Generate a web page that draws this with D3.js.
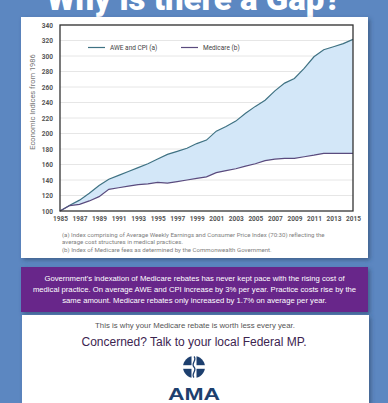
<!DOCTYPE html>
<html><head><meta charset="utf-8">
<script src="https://cdn.jsdelivr.net/npm/d3@7"></script>
<style>
html,body{margin:0;padding:0;background:#5c87c1;}
svg{display:block;}
</style></head>
<body>
<svg id="c" width="388" height="403"></svg>
<script>
const years = d3.range(1985, 2016);
const aweCpi = [100,107.5,114,123,133,141,146,151,156,161,167,173,177,181,187,191.5,203,209,216,226,235,243,255,265,271,284,299,308,312,316,321.5];
const medicare = [100,107,108.6,113,118.5,128,130,132,134,135,137,136,138,140,142,144,149.5,152,154.5,158,161,165,167,168,168,170,172,174.4,174.4,174.4,174.4];
const yTicks = d3.range(100, 341, 20);
const xTicks = d3.range(1985, 2016, 2);
const legendLabels = ["AWE and CPI (a)", "Medicare (b)"];
const notes = ["(a) Index comprising of Average Weekly Earnings and Consumer Price Index (70:30) reflecting the",
               "average cost structures in medical practices.",
               "(b) Index of Medicare fees as determined by the Commonwealth Government."];
const boxLines = ["Government's indexation of Medicare rebates has never kept pace with the rising cost of",
                  "medical practice. On average AWE and CPI increase by 3% per year. Practice costs rise by the",
                  "same amount. Medicare rebates only increased by 1.7% on average per year."];

const svg = d3.select("#c");
const defs = svg.append("defs");
const f = defs.append("filter").attr("id","sh").attr("x","-5%").attr("y","-5%").attr("width","115%").attr("height","115%");
f.append("feDropShadow").attr("dx",2).attr("dy",2).attr("stdDeviation",2).attr("flood-color","#2a4466").attr("flood-opacity",0.6);

// title (partly above the top edge, as in the reference)
svg.append("text").attr("x",194).attr("y",10).attr("text-anchor","middle")
  .attr("font-family","Roboto, 'Liberation Sans', sans-serif").attr("font-weight","900")
  .attr("font-size",33).attr("fill","#ffffff").text("Why is there a Gap?");

svg.append("rect").attr("x",21).attr("y",17).attr("width",347).attr("height",241).attr("fill","#fff").attr("filter","url(#sh)");

const x = d3.scaleLinear().domain([1985,2015]).range([60,353]);
const y = d3.scaleLinear().domain([100,340]).range([211,25]);

const g = svg.append("g");
g.selectAll("line.grid").data(yTicks.slice(1)).join("line").attr("class","grid")
  .attr("x1",60).attr("x2",353).attr("y1",d=>y(d)).attr("y2",d=>y(d))
  .attr("stroke","#e6e6e6").attr("stroke-width",1);

const data = years.map((yr,i)=>({yr, a:aweCpi[i], m:medicare[i]}));
g.append("path").datum(data)
  .attr("d", d3.area().x(d=>x(d.yr)).y0(d=>y(d.m)).y1(d=>y(d.a)))
  .attr("fill","#d3e7f8");
g.append("path").datum(data).attr("d", d3.line().x(d=>x(d.yr)).y(d=>y(d.a)))
  .attr("fill","none").attr("stroke","#3f7283").attr("stroke-width",1.2);
g.append("path").datum(data).attr("d", d3.line().x(d=>x(d.yr)).y(d=>y(d.m)))
  .attr("fill","none").attr("stroke","#5a4b7e").attr("stroke-width",1.2);

g.append("rect").attr("x",60).attr("y",25).attr("width",293).attr("height",186)
  .attr("fill","none").attr("stroke","#333").attr("stroke-width",1.3);

const yAxis = d3.axisLeft(y).tickValues(yTicks).tickSize(0).tickPadding(7);
const ya = svg.append("g").attr("transform","translate(60,0)").call(yAxis);
ya.select(".domain").remove();
ya.selectAll("text").attr("font-family","Roboto, 'DejaVu Sans', sans-serif").attr("font-weight","bold")
  .attr("font-size",6.5).attr("fill","#555");

const xAxis = d3.axisBottom(x).tickValues(xTicks).tickFormat(d3.format("d")).tickSize(0).tickPadding(5);
const xa = svg.append("g").attr("transform","translate(0,211)").call(xAxis);
xa.select(".domain").remove();
xa.selectAll("text").attr("font-family","Roboto, 'DejaVu Sans', sans-serif").attr("font-weight","bold")
  .attr("font-size",6.5).attr("fill","#555");

svg.append("text").attr("transform","translate(35,102) rotate(-90)").attr("text-anchor","middle")
  .attr("font-family","Roboto, sans-serif").attr("font-size",7.5).attr("fill","#777")
  .text("Economic Indices from 1986");

const leg = svg.append("g");
const legColors = ["#3f7283","#5a4b7e"];
const legX = [88, 181];
legendLabels.forEach((t,i)=>{
  leg.append("line").attr("x1",legX[i]).attr("x2",legX[i]+17).attr("y1",47.5).attr("y2",47.5)
    .attr("stroke",legColors[i]).attr("stroke-width",1.2);
  leg.append("text").attr("x",legX[i]+22).attr("y",50).attr("font-family","Roboto, sans-serif")
    .attr("font-size",6.5).attr("fill","#444").text(t);
});

svg.selectAll("text.note").data(notes).join("text").attr("class","note")
  .attr("x",62).attr("y",(d,i)=>237+i*7.4).attr("font-family","Roboto, sans-serif")
  .attr("font-size",6.1).attr("fill","#808080").text(d=>d);

svg.append("rect").attr("x",21).attr("y",267).attr("width",347).attr("height",45).attr("fill","#67268a").attr("filter","url(#sh)");
svg.selectAll("text.box").data(boxLines).join("text").attr("class","box")
  .attr("x",194.5).attr("y",(d,i)=>281+i*11).attr("text-anchor","middle")
  .attr("font-family","'Liberation Sans', Arial, sans-serif").attr("font-size",7.7).attr("fill","#fff").text(d=>d);

svg.append("rect").attr("x",22).attr("y",315).attr("width",347).attr("height",100).attr("fill","#fff").attr("filter","url(#sh)");
svg.append("text").attr("x",195).attr("y",328).attr("text-anchor","middle")
  .attr("font-family","'Liberation Sans', Arial, sans-serif").attr("font-size",7.8).attr("fill","#555")
  .text("This is why your Medicare rebate is worth less every year.");
svg.append("text").attr("x",194).attr("y",346).attr("text-anchor","middle")
  .attr("font-family","'Liberation Sans', Arial, sans-serif").attr("font-size",12).attr("fill","#3c2450")
  .text("Concerned? Talk to your local Federal MP.");

const lg = svg.append("g").attr("transform","translate(194,367)");
lg.append("circle").attr("r",11).attr("fill","#1d3f6e");
lg.append("rect").attr("x",-11.5).attr("y",-1.8).attr("width",23).attr("height",3.6).attr("fill","#fff");
lg.append("rect").attr("x",-2.5).attr("y",-11.5).attr("width",5).attr("height",23).attr("fill","#fff");
lg.append("path").attr("d","M0,-10.5 C3.5,-7 -3.5,-3.5 0,0 C3.5,3.5 -3.5,7 0,10.5").attr("fill","none").attr("stroke","#1d3f6e").attr("stroke-width",1.3);
svg.append("text").attr("transform","translate(194,400) scale(1.35,1)").attr("text-anchor","middle")
  .attr("font-family","'Liberation Sans', Arial, sans-serif").attr("font-weight","bold")
  .attr("font-size",17).attr("fill","#1d3f6e").text("AMA");
</script>
</body></html>
